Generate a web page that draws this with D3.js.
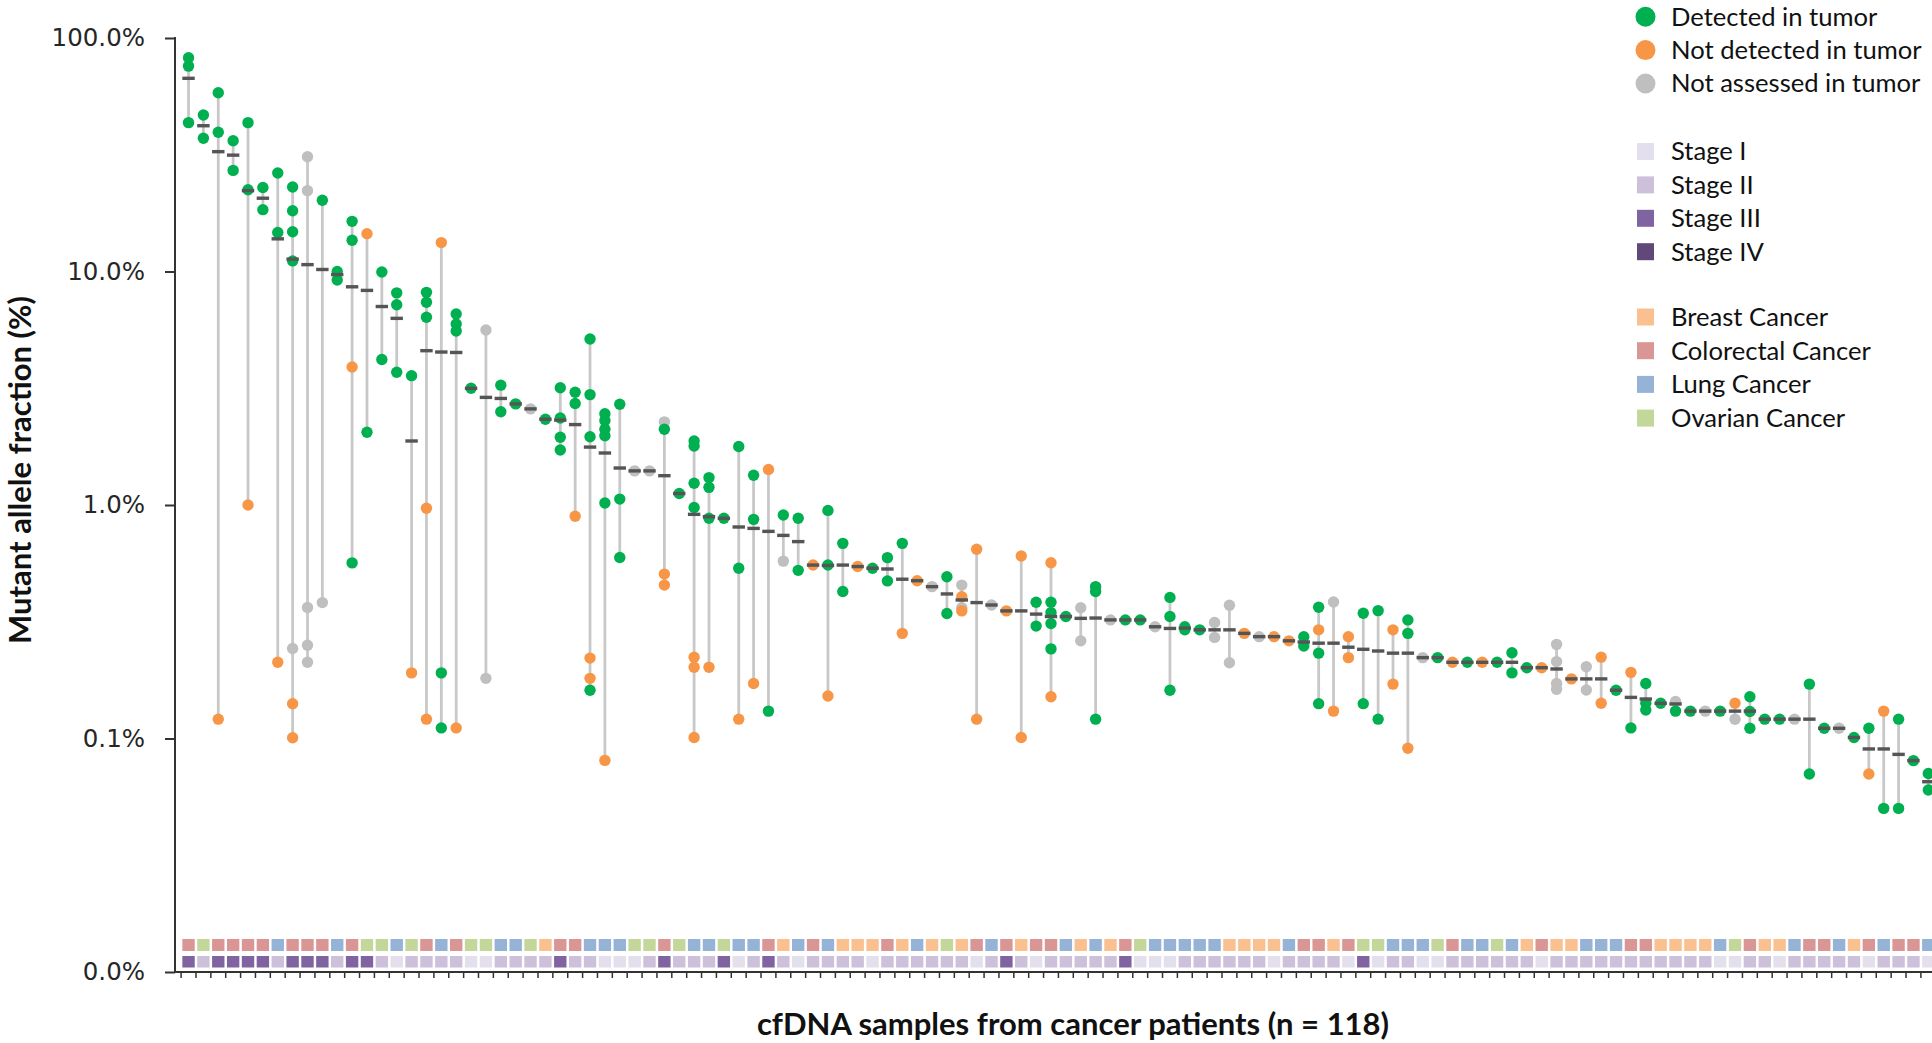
<!DOCTYPE html>
<html><head><meta charset="utf-8">
<script src="https://cdn.jsdelivr.net/npm/d3@7"></script>
<style>body{margin:0;background:#fff}svg{display:block}</style>
</head><body>
<svg id="chart" width="1932" height="1043"></svg>
<script>
// ---------- DATA ----------
const sampleIds = d3.range(1, 119).map(i => "S" + i);

const detected = [
[82.3,75.8,43.4],[46.8,37.2],[58.3,39.5],[36.3,27.1],[43.4,22.4],[22.9,18.4],[26.4,14.7],[23.0,18.2,14.8,11.1],[],[20.2],
[10.0,9.2],[16.4,13.6,0.565],[2.05],[9.95,4.2],[8.1,7.2,3.7],[3.58],[8.14,7.38,6.37],[0.191,0.111],[6.58,5.96,5.56],[3.16],
[],[3.26,2.51],[2.71],[],[2.33],[3.18,2.36,1.95,1.72],[3.04,2.72],[5.14,2.97,1.96,0.161],[2.46,2.3,2.11,1.98,1.02],[2.70,1.06,0.596],
[],[],[2.11],[1.12],[1.88,1.79,1.24,0.975],[1.31,1.19,0.877],[0.877],[1.78,0.536],[1.34,0.868],[0.131],
[0.906],[0.877,0.525],[],[0.948,0.553],[0.685,0.426],[],[0.536],[0.595,0.473],[0.685],[],
[],[0.493,0.343],[],[],[],[],[],[0.383,0.303],[0.383,0.346,0.311,0.242],[0.333],
[],[0.447,0.426,0.121],[],[0.322],[0.322],[],[0.402,0.333,0.161],[0.301,0.292],[0.292],[],
[],[],[],[],[],[0.273,0.249],[0.365,0.232,0.141],[],[],[0.344,0.141],
[0.353,0.121],[],[0.322,0.282],[],[0.222],[],[0.212],[],[0.212],[0.233,0.191],
[0.201],[],[],[],[],[],[0.161],[0.111],[0.172,0.1415,0.1324],[0.1415],
[0.131],[0.131],[],[0.131],[],[0.151,0.1306,0.1106],[0.121],[0.121],[],[0.171,0.0705],
[0.1106],[],[0.101],[0.1106],[0.0502],[0.121,0.0502],[0.0804],[0.0708,0.0602]
];

const notDetected = [
[],[],[0.121],[],[1.0],[],[0.212],[0.141,0.1007],[],[],
[],[3.9],[14.5],[],[],[0.191],[0.968,0.121],[13.3],[0.111],[],
[],[],[],[],[],[],[0.895],[0.221,0.181],[0.0806],[],
[],[],[0.506,0.454],[],[0.223,0.202,0.101],[0.202],[],[0.121],[0.172],[1.42],
[],[],[0.553],[0.152],[],[0.545],[],[],[0.282],[0.474],
[],[],[0.405,0.352],[0.646,0.121],[],[0.352],[0.605,0.101],[],[0.566,0.151],[],
[],[],[],[],[],[],[],[],[],[],
[],[0.282],[],[0.273],[0.262],[],[0.292],[0.131],[0.273,0.222],[],
[],[0.292,0.171],[0.0908],[],[],[0.212],[],[0.212],[],[],
[],[0.201],[],[0.18],[],[0.223,0.1415],[],[0.192],[],[],
[],[],[],[],[0.1415],[],[],[],[],[],
[],[],[],[0.0705],[0.131],[],[],[]
];

const notAssessed = [
[],[],[],[],[],[],[],[0.243],[31.0,22.2,0.364,0.251,0.212],[0.382],
[],[],[],[],[],[],[],[],[],[],
[5.62,0.181],[],[],[2.58],[],[],[],[],[],[],
[1.40],[1.40],[2.27],[],[],[],[],[],[],[],
[0.575],[],[],[],[],[],[],[],[],[],
[0.447],[],[0.454,0.363],[],[0.373],[],[],[],[],[],
[0.363,0.262],[],[0.322],[],[],[0.301],[],[],[],[0.314,0.271],
[0.372,0.211],[],[0.273],[],[],[],[],[0.384],[],[],
[],[],[],[0.222],[],[],[],[],[],[],
[],[],[0.253,0.2135,0.172,0.1625],[],[0.203,0.1614],[],[],[],[],[],
[0.144],[],[0.131],[],[0.1209],[],[],[],[0.121],[],
[],[0.1106],[],[],[],[],[],[]
];

const meanAF = [
67.2,42.1,32.6,31.5,22.2,20.6,13.8,11.3,10.7,10.2,
9.7,8.6,8.3,7.08,6.3,1.88,4.58,4.52,4.50,3.16,
2.89,2.86,2.71,2.58,2.33,2.31,2.21,1.77,1.67,1.44,
1.40,1.40,1.335,1.12,0.912,0.891,0.877,0.805,0.794,0.771,
0.741,0.697,0.553,0.551,0.553,0.545,0.536,0.532,0.481,0.474,
0.447,0.416,0.392,0.382,0.373,0.352,0.352,0.341,0.333,0.333,
0.327,0.328,0.322,0.322,0.322,0.301,0.296,0.297,0.292,0.292,
0.292,0.282,0.273,0.273,0.262,0.259,0.256,0.256,0.246,0.241,
0.237,0.232,0.232,0.222,0.222,0.212,0.212,0.212,0.212,0.212,
0.201,0.201,0.1985,0.18,0.18,0.18,0.161,0.150,0.1476,0.1415,
0.1406,0.131,0.131,0.131,0.131,0.131,0.121,0.121,0.121,0.121,
0.1106,0.1106,0.101,0.0902,0.0902,0.0855,0.0804,0.0653
];

// B = breast, C = colorectal, L = lung, O = ovarian
const cancerType = ("C O C C C C L C C C L C O O L O C L C O O L L O B C C L L L O O C O L L O L L C " +
  "B L C L B B B C B L B O B C L C B C " +
  "C L B L B C O L L L L L B B B B L C C B C O O L L L O C L L O L B C B B L L L C " +
  "C B B B B L O C B B L C C L B C L C C L").split(" ");

const stage = [
3,2,3,3,3,3,2,3,3,3, 2,3,3,2,1,2,2,2,2,1, 1,2,2,2,2,3,2,2,1,1,
1,2,3,2,2,2,3,1,2,3, 2,1,2,2,2,2,1,2,2,2, 2,2,2,1,2,3,2,1,
2,2,2,2,2,3,1,1,1,2, 2,2,2,2,2,1,2,2,2,2, 1,3,1,2,2,1,1,2,2,2,
2,2,2,1,2,2,2,2,2,2, 2,2,2,2,2,1,1,2,2,1, 2,2,2,2,2,1,2,2,2,1
];

const yTickValues = [100, 10, 1, 0.1, 0.01];
const yTickLabels = ["100.0%", "10.0%", "1.0%", "0.1%", "0.0%"];

const statusNames = ["Detected in tumor", "Not detected in tumor", "Not assessed in tumor"];
const stageNames = ["Stage I", "Stage II", "Stage III", "Stage IV"];
const cancerNames = ["Breast Cancer", "Colorectal Cancer", "Lung Cancer", "Ovarian Cancer"];
const cancerKeys = ["B", "C", "L", "O"];

// ---------- STYLE ----------
const statusColors = {"Detected in tumor": "#00b050", "Not detected in tumor": "#f79646", "Not assessed in tumor": "#bfbfbf"};
const stageColors = ["#e4dfec", "#ccc0da", "#8064a2", "#60497a"];
const cancerColors = {B: "#fac090", C: "#da9694", L: "#95b3d7", O: "#c4d79b"};

const svg = d3.select("#chart");
const x = d3.scaleBand().domain(sampleIds).range([181.1, 181.1 + 118 * 14.87]).padding(0);
const y = d3.scaleLog().domain([0.01, 100]).range([972, 38]);
const cx = id => x(id) + x.bandwidth() / 2;

// vertical range lines
const rows = sampleIds.map((id, i) => {
  const all = [...detected[i], ...notDetected[i], ...notAssessed[i]];
  return {id, i, min: d3.min(all), max: d3.max(all)};
});
svg.append("g").selectAll("line").data(rows.filter(r => r.max > r.min)).join("line")
  .attr("x1", r => cx(r.id)).attr("x2", r => cx(r.id))
  .attr("y1", r => y(r.max)).attr("y2", r => y(r.min))
  .attr("stroke", "#c8c8c8").attr("stroke-width", 2.8);

// points
const pts = [];
sampleIds.forEach((id, i) => {
  notAssessed[i].forEach(v => pts.push({id, v, s: statusNames[2]}));
  notDetected[i].forEach(v => pts.push({id, v, s: statusNames[1]}));
  detected[i].forEach(v => pts.push({id, v, s: statusNames[0]}));
});
svg.append("g").selectAll("circle").data(pts).join("circle")
  .attr("cx", d => cx(d.id)).attr("cy", d => y(d.v)).attr("r", 5.7)
  .attr("fill", d => statusColors[d.s]);

// mean dashes
svg.append("g").selectAll("rect").data(sampleIds).join("rect")
  .attr("x", id => cx(id) - 6.2).attr("y", (id, i) => y(meanAF[i]) - 1.7)
  .attr("width", 12.4).attr("height", 3.4).attr("fill", "#555");

// cancer type & stage squares
svg.append("g").selectAll("rect").data(sampleIds).join("rect")
  .attr("x", id => cx(id) - 6.2).attr("y", 939).attr("width", 12.4).attr("height", 12)
  .attr("fill", (id, i) => cancerColors[cancerType[i]]);
svg.append("g").selectAll("rect").data(sampleIds).join("rect")
  .attr("x", id => cx(id) - 6.2).attr("y", 956).attr("width", 12.4).attr("height", 11.5)
  .attr("fill", (id, i) => stageColors[stage[i] - 1]);

// y axis
const yAxis = d3.axisLeft(y).tickValues(yTickValues)
  .tickFormat((d, i) => yTickLabels[i]).tickSize(10).tickPadding(20);
const gy = svg.append("g").attr("transform", "translate(175,0)").call(yAxis);
gy.select(".domain").attr("stroke", "#333").attr("stroke-width", 2).attr("d", "M0,37V973");
gy.selectAll(".tick line").attr("stroke", "#333").attr("stroke-width", 2);
gy.selectAll(".tick text").attr("font-family", "DejaVu Sans").attr("font-size", 24.5).attr("fill", "#262626");

// x axis
const xAxis = d3.axisBottom(x).tickValues([]).tickSizeOuter(0);
const gx = svg.append("g").attr("transform", "translate(0,972)").call(xAxis);
gx.select(".domain").attr("stroke", "#333").attr("stroke-width", 2).attr("d", "M174,0H1940");
gx.selectAll(".xt").data(sampleIds).join("line").attr("class", "xt")
  .attr("x1", id => x(id)).attr("x2", id => x(id)).attr("y1", 0).attr("y2", 6)
  .attr("stroke", "#333").attr("stroke-width", 1.5);

// axis titles
svg.append("text").attr("x", 1073).attr("y", 1035).attr("text-anchor", "middle")
  .attr("font-family", "Lato").attr("font-weight", 700).attr("font-size", 31).attr("fill", "#111")
  .text("cfDNA samples from cancer patients (n = 118)");
svg.append("text").attr("transform", "translate(31,470) rotate(-90)").attr("text-anchor", "middle")
  .attr("font-family", "Lato").attr("font-weight", 700).attr("font-size", 31).attr("fill", "#111")
  .text("Mutant allele fraction (%)");

// legend
const lg = svg.append("g").attr("font-family", "Lato").attr("font-size", 25.6).attr("fill", "#111");
statusNames.forEach((n, i) => {
  const yy = 16.7 + 33.4 * i;
  lg.append("circle").attr("cx", 1645.5).attr("cy", yy).attr("r", 10).attr("fill", statusColors[n]);
  lg.append("text").attr("x", 1671).attr("y", yy).attr("dy", "0.35em").text(n);
});
stageNames.forEach((n, i) => {
  const yy = 151.5 + 33.4 * i;
  lg.append("rect").attr("x", 1637).attr("y", yy - 8.5).attr("width", 17).attr("height", 17).attr("fill", stageColors[i]);
  lg.append("text").attr("x", 1671).attr("y", yy).attr("dy", "0.35em").text(n);
});
cancerNames.forEach((n, i) => {
  const yy = 317 + 33.7 * i;
  lg.append("rect").attr("x", 1637).attr("y", yy - 8.5).attr("width", 17).attr("height", 17).attr("fill", cancerColors[cancerKeys[i]]);
  lg.append("text").attr("x", 1671).attr("y", yy).attr("dy", "0.35em").text(n);
});
</script>
</body></html>
